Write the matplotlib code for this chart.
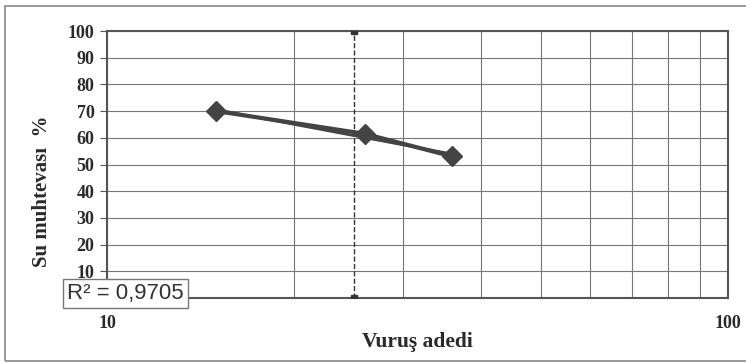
import numpy as np
import matplotlib
matplotlib.use("Agg")
import matplotlib.pyplot as plt
from matplotlib.patches import Rectangle

# data
vurus = [15, 26, 36]
su = [70, 61.5, 53]
limit_x = 25
r2_text = "R² = 0,9705"
y_ticks = [10, 20, 30, 40, 50, 60, 70, 80, 90, 100]

# log trendline fit (Excel style)
a, b = np.polyfit(np.log(vurus), su, 1)
xt = np.linspace(min(vurus), max(vurus), 50)
yt = a * np.log(xt) + b

serif = "Liberation Serif"
fig = plt.figure(figsize=(7.46, 3.63), dpi=100)
fig.patches.append(Rectangle((5 / 746, 2 / 363), 1, 1 - 8 / 363, transform=fig.transFigure,
                             fill=False, edgecolor="#888888", lw=1.2))
ax = fig.add_axes([107 / 746, 1 - 298 / 363, 621 / 746, 267 / 363])

ax.set_xscale("log")
ax.set_xlim(10, 100)
ax.set_ylim(0, 100)

ax.grid(True, which="both", axis="x", color="#777777", lw=0.8)
ax.grid(True, which="major", axis="y", color="#777777", lw=0.8)
ax.set_axisbelow(True)

ax.plot([limit_x, limit_x], [0, 100], color="#333333", ls="--", lw=1,
        marker="s", ms=4, zorder=3)
ax.plot(xt, yt, color="#444444", lw=2, zorder=4)
ax.plot(vurus, su, color="#444444", lw=3, marker="D", ms=10, zorder=5)

ax.set_yticks(y_ticks)
ax.set_xticks([10, 100])
ax.set_xticklabels(["10", "100"])
ax.xaxis.set_minor_formatter(plt.NullFormatter())
ax.tick_params(axis="x", which="both", length=0, pad=12)
ax.tick_params(axis="y", length=5, color="#555555", pad=4)
for lab in ax.get_xticklabels() + ax.get_yticklabels():
    lab.set_fontfamily(serif)
    lab.set_fontweight("bold")
    lab.set_fontsize(13)
    lab.set_color("#2a2a2a")

for s in ax.spines.values():
    s.set_color("#555555")
    s.set_linewidth(1.5)

ax.set_ylabel("Su muhtevası  %", fontfamily=serif, fontweight="bold", fontsize=15,
              color="#2a2a2a")
ax.yaxis.set_label_coords(-0.088, 0.40)
ax.set_xlabel("Vuruş adedi", fontfamily=serif, fontweight="bold", fontsize=15.5,
              color="#2a2a2a", labelpad=0)

fig.text(67 / 746, 1 - 293 / 363, r2_text, fontfamily="Liberation Sans", fontsize=16,
         color="#333333", va="center", ha="left",
         bbox=dict(boxstyle="square,pad=0.18", fc="white", ec="#777777", lw=1))

fig.savefig("out.png", dpi=100)
